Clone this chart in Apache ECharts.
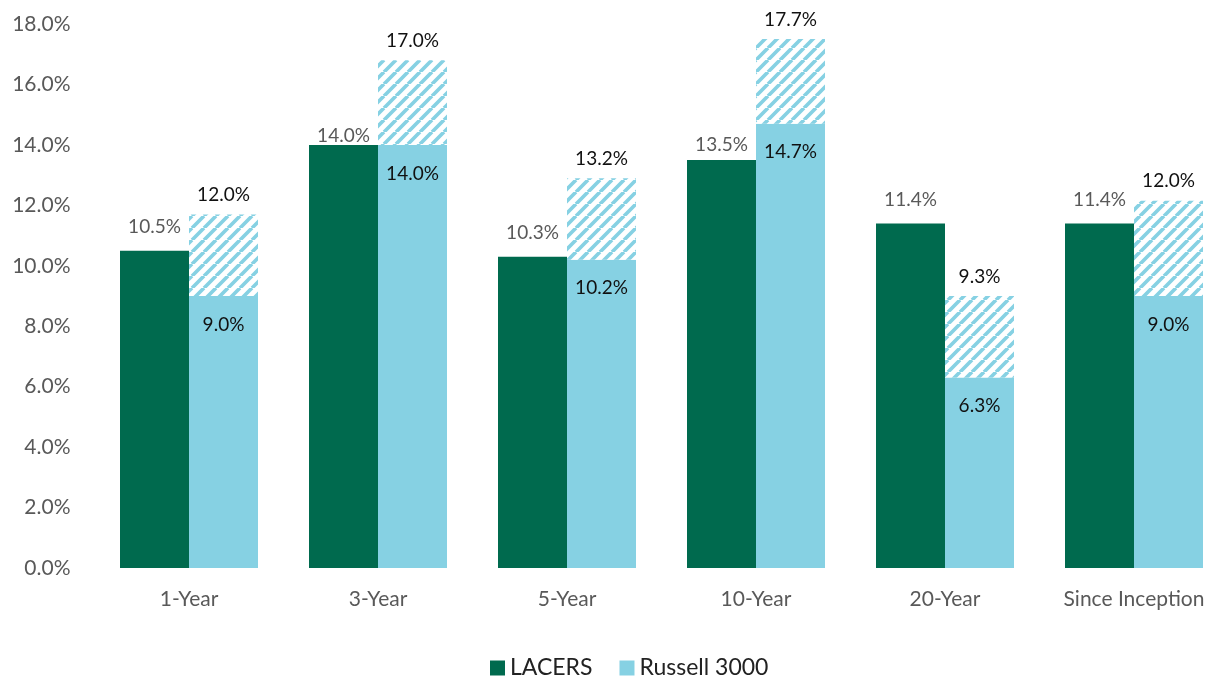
<!DOCTYPE html>
<html>
<head>
<meta charset="utf-8">
<script src="https://cdn.jsdelivr.net/npm/echarts@6/dist/echarts.min.js"></script>
<style>html,body{margin:0;padding:0;background:#fff;overflow:hidden;width:1210px;height:680px;}#c{width:1250px;height:680px;}</style>
</head>
<body>
<div id="c"></div>
<script>
const categories = ['1-Year', '3-Year', '5-Year', '10-Year', '20-Year', 'Since Inception'];
const lacers = [10.5, 14.0, 10.3, 13.5, 11.4, 11.4];
const russell = [9.0, 14.0, 10.2, 14.7, 6.3, 9.0];
// top of hatched extension as drawn in the picture
const russellHatchTop = [11.7, 16.8, 12.9, 17.5, 9.0, 12.15];
// labels printed above the hatched extension
const russellTotalLabels = [12.0, 17.0, 13.2, 17.7, 9.3, 12.0];
const yTicks = [0, 2, 4, 6, 8, 10, 12, 14, 16, 18];

const GREEN = '#006A4E';
const BLUE = '#86D1E3';
const FONT = 'Lato';

function makeHatch() {
  const s = 12;
  const c = document.createElement('canvas');
  c.width = s; c.height = s;
  const ctx = c.getContext('2d');
  ctx.fillStyle = '#ffffff';
  ctx.fillRect(0, 0, s, s);
  ctx.strokeStyle = BLUE;
  ctx.lineWidth = 3.7;
  ctx.beginPath();
  for (let k = -1; k <= 1; k++) {
    ctx.moveTo(k * s, s);
    ctx.lineTo(k * s + s, 0);
  }
  ctx.stroke();
  return c;
}

const greenLabelDistance = {1: 0, 3: 6};

const chart = echarts.init(document.getElementById('c'), null, {renderer: 'canvas'});
chart.setOption({
  animation: false,
  backgroundColor: '#ffffff',
  textStyle: {fontFamily: FONT},
  grid: {left: 94.5, top: 24, width: 1134, height: 544, containLabel: false},
  legend: {
    data: ['LACERS', 'Russell 3000'],
    left: 490, top: 650, padding: 0,
    icon: 'rect', itemWidth: 15, itemHeight: 15, itemGap: 27,
    textStyle: {fontFamily: FONT, fontSize: 23, color: '#222', lineHeight: 36}
  },
  xAxis: {
    type: 'category',
    data: categories,
    axisLine: {show: false},
    axisTick: {show: false},
    axisLabel: {color: '#595959', fontSize: 21, fontFamily: FONT, margin: 21, interval: 0}
  },
  yAxis: {
    type: 'value',
    min: yTicks[0], max: yTicks[yTicks.length - 1], interval: 2,
    splitLine: {show: false},
    axisLine: {show: false},
    axisTick: {show: false},
    axisLabel: {color: '#595959', fontSize: 21, fontFamily: FONT, margin: 24,
      formatter: v => v.toFixed(1) + '%'}
  },
  series: [
    {
      name: 'LACERS', type: 'bar', barWidth: 69, barGap: '0%',
      itemStyle: {color: GREEN},
      data: lacers.map((v, i) => ({
        value: v,
        label: greenLabelDistance[i] !== undefined ? {distance: greenLabelDistance[i]} : undefined
      })),
      label: {show: true, position: 'top', distance: 14, color: '#595959', fontSize: 19, fontFamily: FONT,
        formatter: p => p.value.toFixed(1) + '%'}
    },
    {
      name: 'Russell 3000', type: 'bar', stack: 'r', barWidth: 69, barGap: '0%',
      itemStyle: {color: BLUE},
      data: russell,
      label: {show: true, position: 'insideTop', distance: 19, color: '#111', fontSize: 19, fontFamily: FONT,
        formatter: p => p.value.toFixed(1) + '%'}
    },
    {
      name: 'Russell 3000 (hatched)', type: 'bar', stack: 'r', barWidth: 69, barGap: '0%',
      itemStyle: {color: {image: makeHatch(), repeat: 'repeat'}},
      data: russellHatchTop.map((t, i) => +(t - russell[i]).toFixed(2)),
      label: {show: true, position: 'top', distance: 10, color: '#111', fontSize: 19, fontFamily: FONT,
        formatter: p => russellTotalLabels[p.dataIndex].toFixed(1) + '%'}
    }
  ]
});
</script>
</body>
</html>
